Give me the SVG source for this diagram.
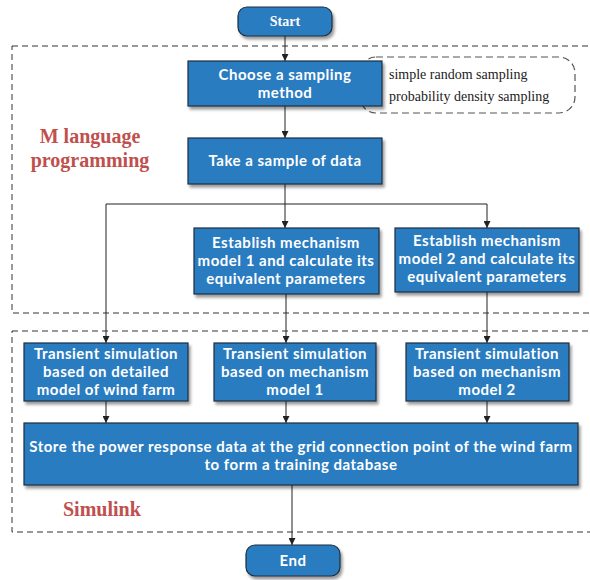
<svg xmlns="http://www.w3.org/2000/svg" width="590" height="580" viewBox="0 0 590 580">
  <defs>
    <marker id="arrow" viewBox="0 0 10 10" refX="10" refY="5" markerWidth="7" markerHeight="7" orient="auto" markerUnits="userSpaceOnUse">
      <path d="M0,0 L10,5 L0,10 z" fill="#222"/>
    </marker>
    <filter id="shadow" x="-10%" y="-10%" width="130%" height="140%">
      <feGaussianBlur in="SourceAlpha" stdDeviation="1.5"/>
      <feOffset dx="2" dy="3" result="b"/>
      <feComponentTransfer><feFuncA type="linear" slope="0.4"/></feComponentTransfer>
      <feMerge><feMergeNode/><feMergeNode in="SourceGraphic"/></feMerge>
    </filter>
  </defs>
  <style>
    .box { fill: #2A7BC1; stroke: #1E2F40; stroke-width: 1.2; filter: url(#shadow); }
    .lbl { font-family: Lato, "Open Sans", sans-serif; font-weight: bold; font-size: 15px; letter-spacing: 0.5px; fill: #fff; text-anchor: middle; }
    .note { font-family: "Liberation Serif", serif; font-size: 14px; fill: #222; }
    .region { fill: none; stroke: #333; stroke-width: 1; stroke-dasharray: 6 4; }
    .title { font-family: "Liberation Serif", serif; font-weight: bold; font-size: 20px; fill: #C0504D; }
    .conn { fill: none; stroke: #222; stroke-width: 1; }
  </style>
  <rect width="590" height="580" fill="#fff"/>

  <!-- regions -->
  <g id="region-m">
    <rect class="region" x="12" y="46" width="600" height="267"/>
    <text class="title" x="90" y="143" text-anchor="middle">M language</text>
    <text class="title" x="90" y="167" text-anchor="middle">programming</text>
  </g>
  <g id="region-simulink">
    <rect class="region" x="12" y="331" width="600" height="201"/>
    <text class="title" x="63" y="516">Simulink</text>
  </g>

  <!-- sampling options -->
  <g id="sampling-options">
    <rect x="360" y="57" width="215" height="56" rx="16" fill="none" stroke="#555" stroke-width="1.2" stroke-dasharray="7 4"/>
    <text class="note" x="389" y="79">simple random sampling</text>
    <text class="note" x="389" y="101">probability density sampling</text>
  </g>

  <!-- connectors -->
  <g id="connectors">
    <path class="conn" d="M285,36 V61" marker-end="url(#arrow)"/>
    <path class="conn" d="M285,106 V138" marker-end="url(#arrow)"/>
    <path class="conn" d="M285,184 V228" marker-end="url(#arrow)"/>
    <path class="conn" d="M106,204 H487 V228" marker-end="url(#arrow)"/>
    <path class="conn" d="M106,204 V343" marker-end="url(#arrow)"/>
    <path class="conn" d="M286,294 V343" marker-end="url(#arrow)"/>
    <path class="conn" d="M487,292 V343" marker-end="url(#arrow)"/>
    <path class="conn" d="M106,401 V423" marker-end="url(#arrow)"/>
    <path class="conn" d="M286,401 V423" marker-end="url(#arrow)"/>
    <path class="conn" d="M487,401 V423" marker-end="url(#arrow)"/>
    <path class="conn" d="M292,485 V545" marker-end="url(#arrow)"/>
  </g>

  <!-- nodes -->
  <g id="start">
    <rect class="box" x="238" y="7" width="94" height="29" rx="9"/>
    <text class="lbl" x="285" y="26" style="font-family:'Liberation Serif',serif;font-size:14px;letter-spacing:0;">Start</text>
  </g>
  <g id="choose">
    <rect class="box" x="188" y="61" width="194" height="45"/>
    <text class="lbl" x="285" y="80">Choose a sampling</text>
    <text class="lbl" x="285" y="98">method</text>
  </g>
  <g id="sample">
    <rect class="box" x="188" y="138" width="194" height="46"/>
    <text class="lbl" x="285" y="166">Take a sample of data</text>
  </g>
  <g id="establish1">
    <rect class="box" x="194" y="228" width="185" height="66"/>
    <text class="lbl" x="286" y="248">Establish mechanism</text>
    <text class="lbl" x="286" y="266">model 1 and calculate its</text>
    <text class="lbl" x="286" y="284">equivalent parameters</text>
  </g>
  <g id="establish2">
    <rect class="box" x="395" y="228" width="184" height="64"/>
    <text class="lbl" x="487" y="246">Establish mechanism</text>
    <text class="lbl" x="487" y="264">model 2 and calculate its</text>
    <text class="lbl" x="487" y="282">equivalent parameters</text>
  </g>
  <g id="transient-detailed">
    <rect class="box" x="24" y="343" width="164" height="58"/>
    <text class="lbl" x="106" y="359">Transient simulation</text>
    <text class="lbl" x="106" y="377">based on detailed</text>
    <text class="lbl" x="106" y="395">model of wind farm</text>
  </g>
  <g id="transient-model1">
    <rect class="box" x="214" y="343" width="162" height="58"/>
    <text class="lbl" x="295" y="359">Transient simulation</text>
    <text class="lbl" x="295" y="377">based on mechanism</text>
    <text class="lbl" x="295" y="395">model 1</text>
  </g>
  <g id="transient-model2">
    <rect class="box" x="406" y="343" width="163" height="58"/>
    <text class="lbl" x="487" y="359">Transient simulation</text>
    <text class="lbl" x="487" y="377">based on mechanism</text>
    <text class="lbl" x="487" y="395">model 2</text>
  </g>
  <g id="store">
    <rect class="box" x="24" y="423" width="554" height="62"/>
    <text class="lbl" x="301" y="452">Store the power response data at the grid connection point of the wind farm</text>
    <text class="lbl" x="301" y="470">to form a training database</text>
  </g>
  <g id="end">
    <rect class="box" x="246" y="545" width="94" height="31" rx="9"/>
    <text class="lbl" x="293" y="566">End</text>
  </g>
</svg>
